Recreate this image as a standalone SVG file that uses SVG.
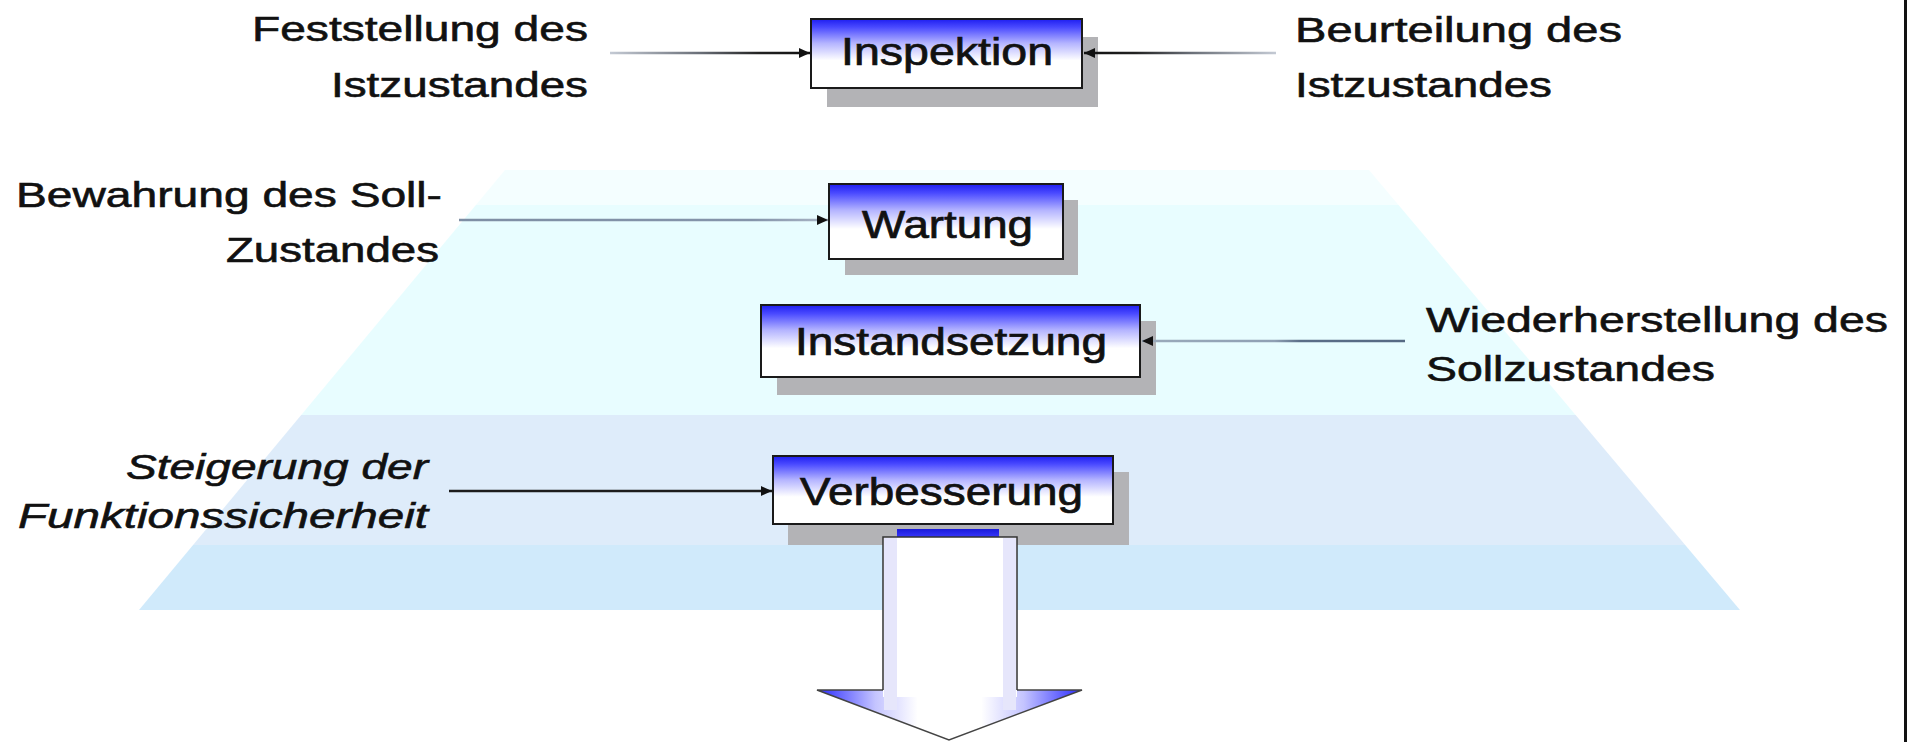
<svg xmlns="http://www.w3.org/2000/svg" width="1910" height="742" viewBox="0 0 1910 742">
<style>
.lbl{font-family:"Liberation Sans",Arial,sans-serif;font-size:35px;fill:#111;stroke:#111;stroke-width:0.6}
.it{font-style:italic}
.nl{font-family:"Liberation Sans",Arial,sans-serif;font-size:38px;fill:#111;stroke:#111;stroke-width:0.7}
.box{fill:url(#boxg);stroke:#1a1a1a;stroke-width:2}
.shadow{fill:#b3b3b6}
.con{fill:none;stroke-width:2.5}
</style>
<defs>
<linearGradient id="boxg" x1="0" y1="0" x2="0" y2="1">
<stop offset="0" stop-color="#1e1ef0"/>
<stop offset="0.12" stop-color="#4a4aff"/>
<stop offset="0.35" stop-color="#b4b4ff"/>
<stop offset="0.6" stop-color="#ffffff"/>
<stop offset="1" stop-color="#ffffff"/>
</linearGradient>
<linearGradient id="bg" gradientUnits="userSpaceOnUse" x1="0" y1="170" x2="0" y2="610">
<stop offset="0" stop-color="#f4feff"/>
<stop offset="0.08" stop-color="#f4feff"/>
<stop offset="0.08" stop-color="#e8fdff"/>
<stop offset="0.557" stop-color="#e8fdff"/>
<stop offset="0.557" stop-color="#deecfa"/>
<stop offset="0.852" stop-color="#deecfa"/>
<stop offset="0.852" stop-color="#d0eafb"/>
<stop offset="1" stop-color="#d0eafb"/>
</linearGradient>
<linearGradient id="headg" gradientUnits="userSpaceOnUse" x1="817" y1="0" x2="1082" y2="0">
<stop offset="0" stop-color="#2a2aff"/>
<stop offset="0.22" stop-color="#c4c4ff"/>
<stop offset="0.38" stop-color="#ffffff"/>
<stop offset="0.62" stop-color="#ffffff"/>
<stop offset="0.78" stop-color="#c4c4ff"/>
<stop offset="1" stop-color="#2a2aff"/>
</linearGradient>
<linearGradient id="capg" x1="0" y1="0" x2="0" y2="1">
<stop offset="0" stop-color="#1a1ad8"/>
<stop offset="1" stop-color="#3a3aff"/>
</linearGradient>
<linearGradient id="c1" gradientUnits="userSpaceOnUse" x1="610" y1="0" x2="809" y2="0">
<stop offset="0" stop-color="#c4cad4"/>
<stop offset="0.45" stop-color="#6a6f78"/>
<stop offset="0.75" stop-color="#222"/>
<stop offset="1" stop-color="#111"/>
</linearGradient>
<linearGradient id="c2" gradientUnits="userSpaceOnUse" x1="1276" y1="0" x2="1088" y2="0">
<stop offset="0" stop-color="#c4cad4"/>
<stop offset="0.45" stop-color="#6a6f78"/>
<stop offset="0.75" stop-color="#222"/>
<stop offset="1" stop-color="#111"/>
</linearGradient>
<linearGradient id="c3" gradientUnits="userSpaceOnUse" x1="459" y1="0" x2="825" y2="0">
<stop offset="0" stop-color="#7e8ea4"/>
<stop offset="0.8" stop-color="#8494aa"/>
<stop offset="1" stop-color="#a8b4c4"/>
</linearGradient>
<linearGradient id="c4" gradientUnits="userSpaceOnUse" x1="1405" y1="0" x2="1144" y2="0">
<stop offset="0" stop-color="#566a84"/>
<stop offset="0.4" stop-color="#5a6e88"/>
<stop offset="0.5" stop-color="#8fa0b4"/>
<stop offset="1" stop-color="#9aaabb"/>
</linearGradient>
<marker id="ah" viewBox="0 0 10 10" refX="10" refY="5" markerWidth="11" markerHeight="11" markerUnits="userSpaceOnUse" orient="auto">
<path d="M0,0.5 L10,5 L0,9.5 z" fill="#111"/>
</marker>
</defs>

<rect x="0" y="0" width="1910" height="742" fill="#ffffff"/>
<polygon id="background" points="505,170 1369,170 1740,610 139,610" fill="url(#bg)"/>
<rect x="1904" y="0" width="3" height="742" fill="#111"/>

<g id="inspektion">
<rect class="shadow" x="827" y="37" width="271" height="70"/>
<rect class="box" x="811" y="19" width="271" height="69"/>
<text class="nl" x="841" y="65" textLength="212" lengthAdjust="spacingAndGlyphs">Inspektion</text>
</g>

<g id="wartung">
<rect class="shadow" x="845" y="200" width="233" height="75"/>
<rect class="box" x="829" y="184" width="234" height="75"/>
<text class="nl" x="862" y="238" textLength="171" lengthAdjust="spacingAndGlyphs">Wartung</text>
</g>

<g id="instandsetzung">
<rect class="shadow" x="777" y="321" width="379" height="74"/>
<rect class="box" x="761" y="305" width="379" height="72"/>
<text class="nl" x="795" y="355" textLength="312" lengthAdjust="spacingAndGlyphs">Instandsetzung</text>
</g>

<g id="verbesserung">
<rect class="shadow" x="788" y="472" width="341" height="73"/>
<rect class="box" x="773" y="456" width="340" height="68"/>
<text class="nl" x="800" y="505" textLength="283" lengthAdjust="spacingAndGlyphs">Verbesserung</text>
</g>

<g id="connectors">
<line class="con" x1="610" y1="53" x2="810" y2="53" stroke="url(#c1)" marker-end="url(#ah)"/>
<line class="con" x1="1276" y1="53" x2="1084" y2="53" stroke="url(#c2)" marker-end="url(#ah)"/>
<line class="con" x1="459" y1="220" x2="828" y2="220" stroke="url(#c3)" marker-end="url(#ah)"/>
<line class="con" x1="1405" y1="341" x2="1142" y2="341" stroke="url(#c4)" marker-end="url(#ah)"/>
<line class="con" x1="449" y1="491" x2="772" y2="491" stroke="#1c1c1c" marker-end="url(#ah)"/>
</g>

<g id="bigarrow">
<rect x="897" y="529" width="102" height="9" fill="url(#capg)"/>
<polygon points="817,690 1082,690 949,740" fill="url(#headg)" stroke="#444" stroke-width="1.5"/>
<rect x="883" y="537" width="134" height="160" fill="#ffffff"/>
<rect x="884" y="538" width="13" height="172" fill="#e6e6fb"/>
<rect x="1003" y="538" width="13" height="172" fill="#e6e6fb"/>
<polyline points="883,690 883,537 1017,537 1017,690" fill="none" stroke="#333" stroke-width="1.5"/>
</g>

<g id="labels">
<text class="lbl" x="252" y="41" textLength="336" lengthAdjust="spacingAndGlyphs">Feststellung des</text>
<text class="lbl" x="331" y="97" textLength="257" lengthAdjust="spacingAndGlyphs">Istzustandes</text>
<text class="lbl" x="1295" y="42" textLength="327" lengthAdjust="spacingAndGlyphs">Beurteilung des</text>
<text class="lbl" x="1295" y="97" textLength="257" lengthAdjust="spacingAndGlyphs">Istzustandes</text>
<text class="lbl" x="16" y="207" textLength="426" lengthAdjust="spacingAndGlyphs">Bewahrung des Soll-</text>
<text class="lbl" x="226" y="262" textLength="213" lengthAdjust="spacingAndGlyphs">Zustandes</text>
<text class="lbl" x="1426" y="332" textLength="462" lengthAdjust="spacingAndGlyphs">Wiederherstellung des</text>
<text class="lbl" x="1426" y="381" textLength="289" lengthAdjust="spacingAndGlyphs">Sollzustandes</text>
<text class="lbl it" x="126" y="479" textLength="302" lengthAdjust="spacingAndGlyphs">Steigerung der</text>
<text class="lbl it" x="18" y="528" textLength="410" lengthAdjust="spacingAndGlyphs">Funktionssicherheit</text>
</g>
</svg>
